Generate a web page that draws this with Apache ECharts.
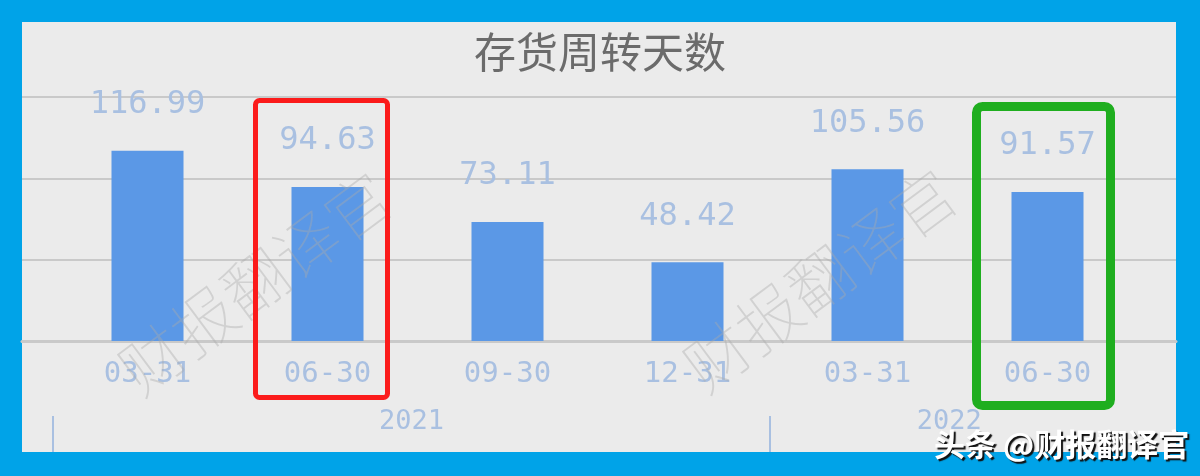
<!DOCTYPE html>
<html>
<head>
<meta charset="utf-8">
<script src="https://cdn.jsdelivr.net/npm/echarts@6/dist/echarts.min.js"></script>
<style>
  html, body { margin: 0; padding: 0; background: #00a3e8; }
  #panel { position: absolute; left: 22px; top: 22px; width: 1154px; height: 430px; background: #ebebeb; }
  #chart { position: absolute; left: 0; top: 0; width: 1200px; height: 476px; }
</style>
</head>
<body>
<div id="panel"></div>
<div id="chart"></div>
<script>
const titleText = '存货周转天数';
const categories = ['03-31', '06-30', '09-30', '12-31', '03-31', '06-30'];
const values = [116.99, 94.63, 73.11, 48.42, 105.56, 91.57];
const yearLabels = ['', '', '2021', '', '', '2022', ''];
const yearTickIdx = [0, 4];
const yMin = 0, yMax = 150, yInterval = 50;
const watermarkText = '财报翻译官';
const creditText = '头条 @财报翻译官';

const labelColor = '#a9c0e1';
const monoFont = 'DejaVu Sans Mono';

const chart = echarts.init(document.getElementById('chart'), null, { renderer: 'canvas' });

const hiddenY = (i) => ({
  type: 'value', gridIndex: i, min: yMin, max: yMax, interval: yInterval,
  axisLine: { show: false }, axisTick: { show: false }, axisLabel: { show: false },
  splitLine: { show: false }
});

chart.setOption({
  backgroundColor: 'transparent',
  animation: false,
  title: {
    text: titleText, left: 'center', top: 31, padding: 0,
    textStyle: { fontFamily: 'Noto Sans CJK SC', fontSize: 42, fontWeight: 'normal', color: '#6b6b6b' }
  },
  grid: [
    { left: 22, right: 24, top: 97, bottom: 135 },
    { left: 57.5, right: 62.5, top: 97, bottom: 135 },
    { left: 53, right: 71.5, top: 380, bottom: 60 }
  ],
  xAxis: [
    {
      type: 'category', gridIndex: 0, data: categories,
      axisLine: { show: true, lineStyle: { color: '#c9c9c9', width: 3 } },
      axisTick: { show: false }, axisLabel: { show: false }, splitLine: { show: false }
    },
    {
      type: 'category', gridIndex: 1, data: categories,
      axisLine: { show: false }, axisTick: { show: false },
      axisLabel: { show: true, interval: 0, margin: 19, color: labelColor, fontSize: 29, fontFamily: monoFont }
    },
    {
      type: 'category', gridIndex: 2, data: yearLabels, boundaryGap: false,
      axisLine: { show: false },
      axisTick: {
        show: true, length: 36,
        interval: (i) => yearTickIdx.indexOf(i) >= 0,
        lineStyle: { color: labelColor, width: 2 }
      },
      axisLabel: {
        show: true, margin: -8, color: labelColor, fontSize: 27, fontFamily: monoFont,
        interval: (i, v) => v !== ''
      }
    }
  ],
  yAxis: [
    {
      type: 'value', gridIndex: 0, min: yMin, max: yMax, interval: yInterval,
      axisLine: { show: false }, axisTick: { show: false }, axisLabel: { show: false },
      splitLine: { show: true, lineStyle: { color: '#c9c9c9', width: 2 } }
    },
    hiddenY(1),
    hiddenY(2)
  ],
  series: [{
    type: 'bar', xAxisIndex: 1, yAxisIndex: 1, data: values, barWidth: 72,
    itemStyle: { color: '#5b98e6' },
    label: {
      show: true, position: 'top', distance: 30,
      color: labelColor, fontSize: 32, fontFamily: monoFont,
      formatter: (p) => p.value.toFixed(2)
    }
  }],
  graphic: [
    {
      type: 'text', x: 255, y: 283, rotation: 0.64, z: 50,
      style: {
        text: watermarkText, fontSize: 64, fontFamily: 'Noto Sans CJK SC', fontWeight: 100,
        fill: 'rgba(170,170,170,0.4)', align: 'center', verticalAlign: 'middle'
      }
    },
    {
      type: 'text', x: 820, y: 280, rotation: 0.64, z: 50,
      style: {
        text: watermarkText, fontSize: 64, fontFamily: 'Noto Sans CJK SC', fontWeight: 100,
        fill: 'rgba(170,170,170,0.4)', align: 'center', verticalAlign: 'middle'
      }
    },
    {
      type: 'rect', z: 60,
      shape: { x: 255.5, y: 100.5, width: 132, height: 297, r: 4 },
      style: { fill: 'none', stroke: '#fb1b1b', lineWidth: 5 }
    },
    {
      type: 'rect', z: 60,
      shape: { x: 976.5, y: 106.5, width: 134, height: 299, r: 6 },
      style: { fill: 'none', stroke: '#1fae1f', lineWidth: 9 }
    },
    {
      type: 'text', x: 934, y: 429, z: 70,
      style: {
        text: creditText, fontSize: 31, fontWeight: 'bold', fontFamily: 'Noto Sans CJK SC',
        fill: '#ffffff', textShadowColor: '#111111', textShadowOffsetX: 2, textShadowOffsetY: 2, textShadowBlur: 1
      }
    }
  ]
});
</script>
</body>
</html>
